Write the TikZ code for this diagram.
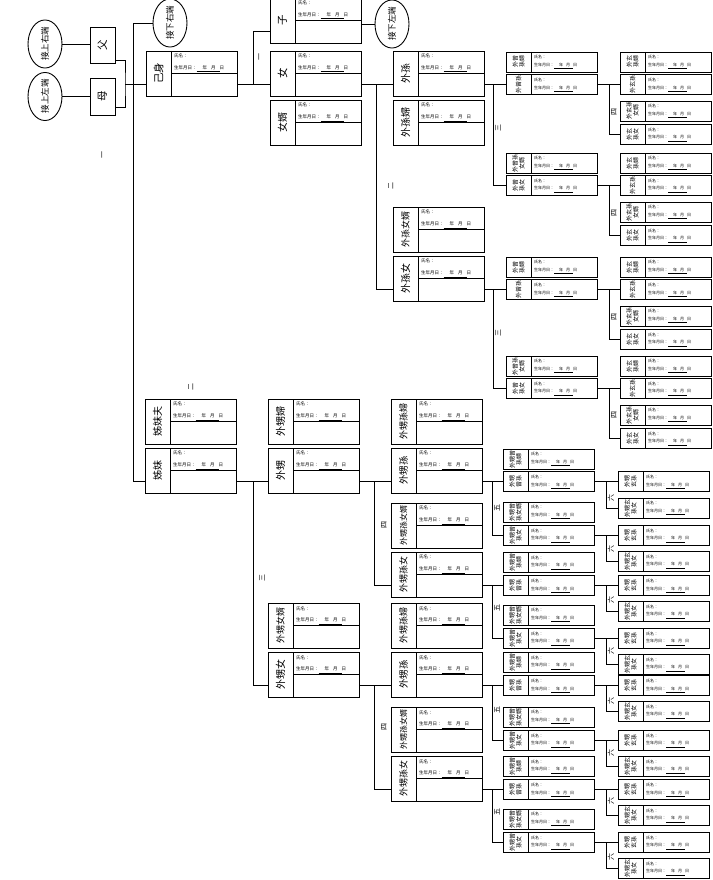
\documentclass[tikz,border=0pt]{standalone}
\usepackage{fontspec}
\setmainfont{Noto Sans CJK TC}
\usepackage{graphicx}
\usetikzlibrary{calc,shapes.geometric}
\tikzset{
 ln/.style={line width=0.9pt, black},
 bb/.style={draw, line width=0.9pt, rectangle, minimum width=91pt, minimum height=45pt, inner sep=0pt, outer sep=0pt},
 sb/.style={draw, line width=0.9pt, rectangle, minimum width=91pt, minimum height=20pt, inner sep=0pt, outer sep=0pt},
 nb/.style={draw, line width=0.9pt, rectangle, minimum width=25pt, inner sep=0pt, outer sep=0pt, font=\fontsize{10.5}{10.5}\selectfont},
 circ/.style={draw, line width=0.9pt, ellipse, minimum width=34pt, minimum height=40pt, inner sep=0pt, outer sep=0pt, font=\fontsize{8.5}{8.5}\selectfont},
 fld/.style={inner sep=0pt, font=\fontsize{4.5}{4.5}\selectfont},
 sfld/.style={inner sep=0pt, font=\fontsize{4}{4}\selectfont},
 snm/.style={rotate=90, inner sep=0pt, align=center, font=\fontsize{6}{6.6}\selectfont},
 deg/.style={rotate=90, inner sep=0pt, font=\fontsize{7}{7}\selectfont},
}
\newcommand\bigbx[5][9]{%
  \node[bb] (#2) at ({#3+45.5},{#4+22.5}) {};
  \draw[ln] ($(#2.north west)+(25,0)$) -- ($(#2.south west)+(25,0)$);
  \draw[ln] ($(#2.west)+(25,0)$) -- (#2.east);
  \node[rotate=90,inner sep=0pt,font=\fontsize{#1}{#1}\selectfont] (#2-n) at ($(#2.west)+(12.5,0)$) {#5};
  \node[fld,anchor=north west] (#2-a) at ($(#2.north west)+(28,3)$) {氏名：};
  \node[fld,anchor=south west] (#2-b) at ($(#2.west)+(28,-1)$) {生年月日：\underline{\hspace{6pt}年\hspace{4pt}月\hspace{4pt}}日};
  \coordinate (#2-l) at ($(#2.west)!0.5!(#2.south west)$);
  \coordinate (#2-r) at ($(#2.east)!0.5!(#2.south east)$);
}
\newcommand\smbx[4]{%
  \node[sb] (#1) at ({#2+45.5},{#3+10}) {};
  \draw[ln] ($(#1.north west)+(25,0)$) -- ($(#1.south west)+(25,0)$);
  \node[snm] (#1-n) at ($(#1.west)+(12.5,0)$) {#4};
  \node[sfld,anchor=north west] (#1-a) at ($(#1.north west)+(28,3)$) {氏名：};
  \node[sfld,anchor=south west] (#1-b) at ($(#1.south west)+(28,-3)$) {生年月日：\underline{\hspace{5pt}年\hspace{3pt}月\hspace{3pt}}日};
  \coordinate (#1-l) at (#1.west);
  \coordinate (#1-r) at (#1.east);
}
\newcommand\forkto[4]{%
  \draw[ln] (#1) -- ++(#2,0) coordinate (#1-j);
  \draw[ln] (#3) -| (#1-j) |- (#4);
}
\begin{document}
\begin{tikzpicture}[x=1pt,y=-1pt]
\useasboundingbox (0,0) rectangle (712,880);
\fill[white] (0,0) rectangle (712,880);
\clip (0,0) rectangle (712,880);

% ---- parents and circles
\node[nb,minimum height=36pt] (fu) at (102.5,45) {\rotatebox{90}{父}};
\node[nb,minimum height=37pt] (mu) at (102.5,96.5) {\rotatebox{90}{母}};
\node[circ] (c1) at (45,44) {\rotatebox{90}{接上右端}};
\node[circ] (c2) at (45,96.5) {\rotatebox{90}{接上左端}};
\node[circ] (c3) at (170,23) {\rotatebox{90}{接下右端}};
\node[circ] (c4) at (392,24) {\rotatebox{90}{接下左端}};

% ---- big boxes
\bigbx[10.5]{ziji}{146}{51}{己身}
\bigbx[10.5]{zi}{270}{-2}{子}
\bigbx[10.5]{nv}{270}{51}{女}
\bigbx[10]{nvxu}{270}{100}{女婿}
\bigbx[10]{wsun}{393}{51}{外孫}
\bigbx[10]{wsunf}{393}{100}{外孫婦}
\bigbx[9]{wsunnx}{393}{207}{外孫女婿}
\bigbx[10]{wsunn}{393}{256}{外孫女}
\bigbx[10]{jmf}{145}{399}{姊妹夫}
\bigbx[10]{jm}{145}{448}{姊妹}
\bigbx[10]{wsf}{268}{399}{外甥婦}
\bigbx[10]{ws}{268}{448}{外甥}
\bigbx[9]{wsnx}{268}{603}{外甥女婿}
\bigbx[10]{wsn}{268}{652}{外甥女}
\bigbx[9]{wssaf}{391}{399}{外甥孫婦}
\bigbx[9.5]{wssa}{391}{448}{外甥孫}
\bigbx[8]{wssanx}{391}{503}{外甥孫女婿}
\bigbx[9]{wssan}{391}{552}{外甥孫女}
\bigbx[9]{wssbf}{391}{603}{外甥孫婦}
\bigbx[9.5]{wssb}{391}{652}{外甥孫}
\bigbx[8]{wssbnx}{391}{707}{外甥孫女婿}
\bigbx[9]{wssbn}{391}{756}{外甥孫女}

% ---- small boxes, upper E
\smbx{e1}{506}{52}{外曾\\孫婦}
\smbx{e2}{506}{74.75}{外曾孫}
\smbx{e3}{506}{153}{外曾孫\\女婿}
\smbx{e4}{506}{175.5}{外曾\\孫女}
\smbx{e5}{506}{257}{外曾\\孫婦}
\smbx{e6}{506}{279.75}{外曾孫}
\smbx{e7}{506}{356}{外曾孫\\女婿}
\smbx{e8}{506}{378.5}{外曾\\孫女}
% upper F
\smbx{f1}{620}{52}{外玄\\孫婦}
\smbx{f2}{620}{74.75}{外玄孫}
\smbx{f3}{620}{101}{外玄孫\\女婿}
\smbx{f4}{620}{124.5}{外玄\\孫女}
\smbx{f5}{620}{153}{外玄\\孫婦}
\smbx{f6}{620}{175.5}{外玄孫}
\smbx{f7}{620}{202}{外玄孫\\女婿}
\smbx{f8}{620}{225.5}{外玄\\孫女}
\smbx{f9}{620}{257}{外玄\\孫婦}
\smbx{f10}{620}{279.75}{外玄孫}
\smbx{f11}{620}{306}{外玄孫\\女婿}
\smbx{f12}{620}{329.5}{外玄\\孫女}
\smbx{f13}{620}{356}{外玄\\孫婦}
\smbx{f14}{620}{378.5}{外玄孫}
\smbx{f15}{620}{405}{外玄孫\\女婿}
\smbx{f16}{620}{428.5}{外玄\\孫女}
% lower E
\smbx{e9}{503}{449}{外甥曾\\孫婦}
\smbx{e10}{503}{471.75}{外甥\\曾孫}
\smbx{e11}{503}{502}{外甥曾\\孫女婿}
\smbx{e12}{503}{525.5}{外甥曾\\孫女}
\smbx{e13}{503}{552.5}{外甥曾\\孫婦}
\smbx{e14}{503}{575.75}{外甥\\曾孫}
\smbx{e15}{503}{605}{外甥曾\\孫女婿}
\smbx{e16}{503}{628.5}{外甥曾\\孫女}
\smbx{e17}{503}{652.5}{外甥曾\\孫婦}
\smbx{e18}{503}{675.75}{外甥\\曾孫}
\smbx{e19}{503}{707}{外甥曾\\孫女婿}
\smbx{e20}{503}{730.5}{外甥曾\\孫女}
\smbx{e21}{503}{756.5}{外甥曾\\孫婦}
\smbx{e22}{503}{779.75}{外甥\\曾孫}
\smbx{e23}{503}{809}{外甥曾\\孫女婿}
\smbx{e24}{503}{832.5}{外甥曾\\孫女}
% lower F
\smbx{f17}{618}{471.75}{外甥\\玄孫}
\smbx{f18}{618}{498}{外甥玄\\孫女}
\smbx{f19}{618}{525.5}{外甥\\玄孫}
\smbx{f20}{618}{551.5}{外甥玄\\孫女}
\smbx{f21}{618}{575.75}{外甥\\玄孫}
\smbx{f22}{618}{601.5}{外甥玄\\孫女}
\smbx{f23}{618}{628.5}{外甥\\玄孫}
\smbx{f24}{618}{654.5}{外甥玄\\孫女}
\smbx{f25}{618}{675.75}{外甥\\玄孫}
\smbx{f26}{618}{701.5}{外甥玄\\孫女}
\smbx{f27}{618}{730.5}{外甥\\玄孫}
\smbx{f28}{618}{756.5}{外甥玄\\孫女}
\smbx{f29}{618}{779.75}{外甥\\玄孫}
\smbx{f30}{618}{805.5}{外甥玄\\孫女}
\smbx{f31}{618}{832.5}{外甥\\玄孫}
\smbx{f32}{618}{858.5}{外甥玄\\孫女}

% ---- connectors
\draw[ln] (c1) -- (c1 -| fu.west);
\draw[ln] (c2) -- (mu);
\coordinate (fu-r) at ($(fu.east)+(0,15)$);
\coordinate (mu-r) at ($(mu.east)+(0,10.5)$);
\coordinate (jfm) at ($(ziji-l)+(-21,0)$);
\draw[ln] (fu-r) -| (jfm) |- (mu-r);
\draw[ln] (jfm) -- (ziji-l);
\coordinate (jmv) at ($(jm-l)+(-12,0)$);
\draw[ln] (c3.west) -| (jmv) -- (jm-l);
\draw[ln] (zi.east |- c4.west) -- (c4.west);

\forkto{ziji-r}{16}{zi-l}{nv-l}
\forkto{nv-r}{15}{wsun-l}{wsunn-l}
\forkto{wsun-r}{9}{e2-l}{e4-l}
\forkto{wsunn-r}{9}{e6-l}{e8-l}
\forkto{e2-r}{12}{f2-l}{f4-l}
\forkto{e4-r}{12}{f6-l}{f8-l}
\forkto{e6-r}{12}{f10-l}{f12-l}
\forkto{e8-r}{12}{f14-l}{f16-l}
\forkto{jm-r}{17}{ws-l}{wsn-l}
\forkto{ws-r}{15}{wssa-l}{wssan-l}
\forkto{wsn-r}{15}{wssb-l}{wssbn-l}
\forkto{wssa-r}{10}{e10-l}{e12-l}
\forkto{wssan-r}{10}{e14-l}{e16-l}
\forkto{wssb-r}{10}{e18-l}{e20-l}
\forkto{wssbn-r}{10}{e22-l}{e24-l}
\forkto{e10-r}{12}{f17-l}{f18-l}
\forkto{e12-r}{12}{f19-l}{f20-l}
\forkto{e14-r}{12}{f21-l}{f22-l}
\forkto{e16-r}{12}{f23-l}{f24-l}
\forkto{e18-r}{12}{f25-l}{f26-l}
\forkto{e20-r}{12}{f27-l}{f28-l}
\forkto{e22-r}{12}{f29-l}{f30-l}
\forkto{e24-r}{12}{f31-l}{f32-l}

% ---- degree labels
\node[deg] (g1) at (103,155) {一};
\node[deg] (g2) at (260,57) {一};
\node[deg] (g3) at (391,186) {二};
\node[deg] (g4) at (498,128) {三};
\node[deg] (g5) at (498,333) {三};
\node[deg] (g6) at (614,112) {四};
\node[deg] (g7) at (614,213) {四};
\node[deg] (g8) at (614,317) {四};
\node[deg] (g9) at (614,415) {四};
\node[deg] (g10) at (191,387) {二};
\node[deg] (g11) at (262,578) {三};
\node[deg] (g12) at (384,525) {四};
\node[deg] (g13) at (384,727) {四};
\node[deg] (g14) at (497,508) {五};
\node[deg] (g15) at (497,608) {五};
\node[deg] (g16) at (497,710) {五};
\node[deg] (g17) at (497,812) {五};
\node[deg] (g18) at (611,498) {六};
\node[deg] (g19) at (611,549) {六};
\node[deg] (g20) at (611,600) {六};
\node[deg] (g21) at (611,651) {六};
\node[deg] (g22) at (611,701) {六};
\node[deg] (g23) at (611,753) {六};
\node[deg] (g24) at (611,801) {六};
\node[deg] (g25) at (611,857) {六};
\end{tikzpicture}
\end{document}
